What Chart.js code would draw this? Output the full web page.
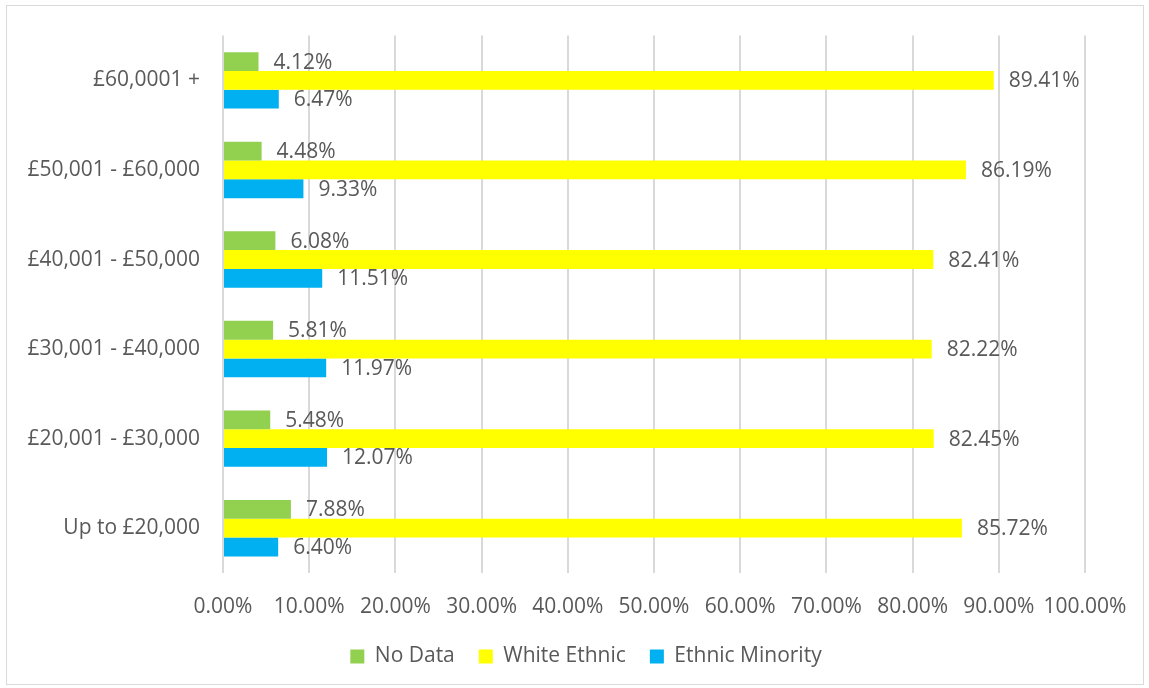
<!DOCTYPE html>
<html>
<head>
<meta charset="utf-8">
<script src="https://cdn.jsdelivr.net/npm/chart.js@4"></script>
<style>
  body { margin: 0; background: #fff; }
  .wrap { position: relative; width: 1149px; height: 688px; }
  .frame { position: absolute; left: 6px; top: 5px; width: 1136px; height: 678px; border: 1px solid #d9d9d9; pointer-events: none; }
  canvas { position: absolute; left: 0; top: 0; }
</style>
</head>
<body>
<div class="wrap">
  <canvas id="chart" width="1149" height="688"></canvas>
  <div class="frame"></div>
</div>
<script>
const bands = ['£60,0001 +', '£50,001 - £60,000', '£40,001 - £50,000', '£30,001 - £40,000', '£20,001 - £30,000', 'Up to £20,000'];
const noData = [4.12, 4.48, 6.08, 5.81, 5.48, 7.88];
const whiteEthnic = [89.41, 86.19, 82.41, 82.22, 82.45, 85.72];
const ethnicMinority = [6.47, 9.33, 11.51, 11.97, 12.07, 6.40];

const textColor = '#595959';
const font = { family: 'Open Sans', size: 21 };

// value labels just past the end of each bar
const barLabels = {
    id: 'barLabels',
    afterDatasetsDraw(chart) {
        const ctx = chart.ctx;
        ctx.save();
        ctx.font = font.size + 'px ' + font.family;
        ctx.fillStyle = textColor;
        ctx.textAlign = 'left';
        ctx.textBaseline = 'middle';
        chart.data.datasets.forEach((ds, i) => {
            chart.getDatasetMeta(i).data.forEach((bar, j) => {
                ctx.fillText(ds.data[j].toFixed(2) + '%', bar.x + 15, bar.y + 1);
            });
        });
        ctx.restore();
    }
};

// the legend is centred a bit further right than the chart area
const legendShift = {
    id: 'legendShift',
    afterLayout(chart) {
        chart.legend.left = 87;
    }
};

new Chart(document.getElementById('chart'), {
    type: 'bar',
    data: {
        labels: bands,
        datasets: [
            { label: 'No Data', data: noData, backgroundColor: '#92d050' },
            { label: 'White Ethnic', data: whiteEthnic, backgroundColor: '#ffff00' },
            { label: 'Ethnic Minority', data: ethnicMinority, backgroundColor: '#00b0f0' }
        ]
    },
    options: {
        indexAxis: 'y',
        responsive: false,
        animation: false,
        barPercentage: 1,
        categoryPercentage: 0.63,
        layout: { padding: { left: 0, right: 64, top: 35, bottom: 11 } },
        scales: {
            x: {
                min: 0,
                max: 100,
                ticks: {
                    stepSize: 10,
                    color: textColor,
                    font: font,
                    padding: 21,
                    maxRotation: 0,
                    callback: v => v.toFixed(2) + '%'
                },
                grid: { color: '#d9d9d9', lineWidth: 2, drawTicks: false },
                border: { display: false },
                afterFit: s => { s.height = 49; }
            },
            y: {
                ticks: { color: textColor, font: font, padding: 23 },
                grid: { display: false, drawTicks: false },
                border: { display: false },
                afterFit: s => { s.width = 223; }
            }
        },
        plugins: {
            legend: {
                position: 'bottom',
                labels: {
                    color: textColor,
                    font: font,
                    boxWidth: 14,
                    boxHeight: 14,
                    padding: 24
                }
            },
            tooltip: { enabled: false }
        }
    },
    plugins: [barLabels, legendShift]
});
</script>
</body>
</html>
